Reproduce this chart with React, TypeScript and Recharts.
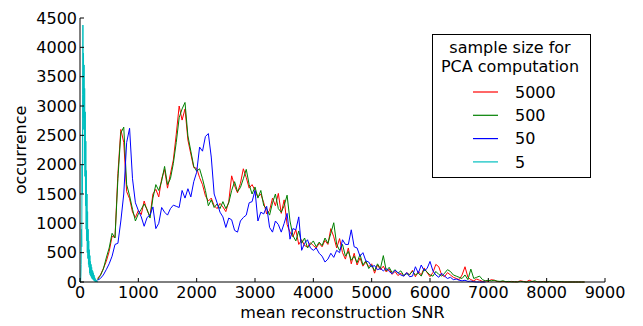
import { Legend, Line, LineChart, XAxis, YAxis } from 'recharts'

// histogram bins (bin start, step 50) shared by the three large-sample series
const BIN_START = 300
const BIN_STEP = 50

const SNR_5000 = [
  60, 120, 230, 350, 520, 780, 760, 1850, 2600, 2380, 1540, 1420, 1190, 1100, 1220, 1150, 1380, 1220, 1120, 1500,
  1580, 1450, 1760, 1920, 1600, 1840, 2080, 2520, 3000, 2760, 2950, 2420, 2180, 1950, 1940, 1780, 1660, 1470, 1380, 1430,
  1300, 1250, 1340, 1280, 1200, 1370, 1810, 1640, 1520, 1680, 1930, 1780, 1600, 1660, 1560, 1450, 1500, 1350, 1160, 1220,
  1430, 1300, 1510, 1170, 1400, 980, 850, 770, 890, 640, 720, 620, 600, 670, 620, 580, 660, 600, 710, 640,
  910, 770, 580, 740, 500, 390, 580, 310, 490, 290, 410, 270, 340, 260, 310, 150, 290, 210, 270, 170,
  220, 130, 180, 110, 150, 100, 160, 120, 200, 90, 180, 120, 240, 160, 90, 160, 300, 260, 120, 90,
  160, 120, 80, 60, 40, 120, 260, 80, 40, 20, 50, 30, 10, 20, 10, 40, 30, 10, 5, 10,
  5, 0, 10, 0, 5, 20, 10, 0, 30, 10, 0, 5, 0, 10, 0, 5, 0, 0, 5, 0,
  0, 0, 0, 0, 0, 0, 0, 0,
]

const SNR_500 = [
  40, 110, 220, 410, 580, 830, 750, 1760, 2540, 2640, 1660, 1470, 1240, 1040, 1160, 1240, 1330, 1240, 1090, 1430,
  1660, 1560, 1720, 1970, 1660, 1760, 2020, 2380, 2800, 2950, 3060, 2490, 2230, 1970, 1890, 1930, 1760, 1560, 1300, 1400,
  1270, 1330, 1250, 1370, 1250, 1350, 1560, 1710, 1540, 1610, 1760, 1920, 1660, 1500, 1620, 1430, 1560, 1300, 1250, 1140,
  1350, 1500, 1250, 1190, 1300, 1480, 1040, 790, 700, 870, 660, 750, 580, 640, 700, 600, 680, 620, 750, 660,
  830, 1010, 640, 540, 640, 440, 520, 370, 440, 330, 470, 290, 360, 230, 290, 190, 310, 230, 450, 190,
  250, 160, 210, 150, 190, 110, 140, 130, 180, 120, 150, 100, 220, 170, 120, 100, 180, 130, 100, 150,
  210, 180, 120, 100, 80, 60, 120, 40, 220, 60, 80, 100, 40, 20, 30, 20, 30, 15, 10, 20,
  5, 10, 0, 5, 0, 10, 5, 0, 0, 10, 20, 0, 5, 0, 0, 10, 0, 0, 0, 5,
  0, 0, 0, 0, 0, 0, 0, 0,
]

const SNR_50 = [
  30, 60, 120, 210, 310, 440, 640, 660, 1040, 1500, 2380, 2620, 1760, 1350, 1220, 1110, 950, 1100, 1140, 1280,
  910, 1000, 1270, 1190, 1140, 1250, 1310, 1290, 1270, 1560, 1430, 1590, 1450, 1710, 1870, 2300, 2230, 2480, 2530, 2130,
  1500, 1350, 1190, 1110, 930, 1090, 1060, 880, 850, 1040, 1100, 1140, 1350, 1370, 1560, 1040, 1190, 1160, 1290, 930,
  850, 1040, 980, 850, 1000, 1170, 730, 910, 890, 1110, 540, 660, 720, 580, 540, 580, 490, 440, 340, 390,
  490, 420, 540, 500, 720, 640, 640, 890, 600, 580, 440, 500, 360, 340, 260, 280, 210, 230, 190, 230,
  180, 140, 200, 160, 120, 100, 160, 90, 100, 260, 150, 290, 190, 230, 350, 190, 120, 80, 150, 100,
  60, 80, 40, 50, 30, 20, 30, 10, 15, 5, 0, 0, 0, 0,
]

// the smallest sample size collapses near zero, finer bins (step 5)
const SNR_5_X = [
  0, 5, 10, 15, 20, 25, 30, 35, 40, 45, 50, 55, 60, 65, 70, 75, 80, 85, 90, 95,
  100, 105, 110, 115, 120, 125, 130, 135, 140, 145, 150, 155, 160, 165, 170, 175, 180, 185, 190, 195,
  200, 205, 210, 215, 220, 225, 230, 235, 240, 245, 250, 255, 260, 265, 270, 275, 280, 285, 290, 295, 300,
]
const SNR_5 = [
  0, 0, 0, 100, 300, 900, 600, 2000, 1500, 3200, 4380, 2800, 3900, 2600, 3700, 2000, 3300, 1800, 2900, 1300,
  2400, 900, 1900, 700, 1500, 500, 1200, 400, 900, 300, 700, 250, 550, 150, 450, 120, 350, 100, 300, 80,
  250, 60, 200, 50, 180, 40, 150, 30, 120, 20, 90, 10, 60, 10, 40, 0, 30, 0, 20, 0, 0,
]

const X_TICKS = [0, 1000, 2000, 3000, 4000, 5000, 6000, 7000, 8000, 9000]
const Y_TICKS = [0, 500, 1000, 1500, 2000, 2500, 3000, 3500, 4000, 4500]

const FONT = "'DejaVu Sans', sans-serif"

const toBins = (values: number[]) =>
  values.map((count, i) => ({ snr: BIN_START + i * BIN_STEP, count }))

const series = [
  { name: '5000', color: '#ff0000', data: toBins(SNR_5000) },
  { name: '500', color: '#008000', data: toBins(SNR_500) },
  { name: '50', color: '#0000ff', data: toBins(SNR_50) },
  { name: '5', color: '#00bfbf', data: SNR_5_X.map((snr, i) => ({ snr, count: SNR_5[i] })) },
]

// matplotlib-style ticks: pointing into the plot, on every side
function BottomTick({ x, y, payload }: any) {
  return (
    <g>
      <line x1={x} x2={x} y1={y} y2={y - 4} stroke="#000" />
      <text x={x} y={y + 16} textAnchor="middle" fontSize={16} fontFamily={FONT} fill="#000">
        {payload.value}
      </text>
    </g>
  )
}

function TopTick({ x, y }: any) {
  return <line x1={x} x2={x} y1={y} y2={y + 4} stroke="#000" />
}

function LeftTick({ x, y, payload }: any) {
  return (
    <g>
      <line x1={x} x2={x + 4} y1={y} y2={y} stroke="#000" />
      <text x={x - 3} y={y} dy="0.36em" textAnchor="end" fontSize={16} fontFamily={FONT} fill="#000">
        {payload.value}
      </text>
    </g>
  )
}

function RightTick({ x, y }: any) {
  return <line x1={x} x2={x - 4} y1={y} y2={y} stroke="#000" />
}

// legend keeps the plotting order (largest sample first)
function LegendBox() {
  return (
    <div
      style={{
        width: 159,
        height: 144,
        boxSizing: 'border-box',
        border: '1px solid #000',
        background: '#fff',
      }}
    >
      <svg width={157} height={142} style={{ display: 'block' }}>
        <text x={77} y={18} textAnchor="middle" fontSize={16} fontFamily={FONT}>
          sample size for
        </text>
        <text x={77} y={37} textAnchor="middle" fontSize={16} fontFamily={FONT}>
          PCA computation
        </text>
        {series.map((s, i) => (
          <g key={s.name}>
            <line x1={40} x2={65} y1={57 + i * 23.3} y2={57 + i * 23.3} stroke={s.color} strokeWidth={1.2} />
            <text x={82} y={57 + i * 23.3} dy="0.36em" fontSize={16} fontFamily={FONT}>
              {s.name}
            </text>
          </g>
        ))}
      </svg>
    </div>
  )
}

export default function App() {
  return (
    <div style={{ position: 'absolute', left: 0, top: 0, background: '#fff' }}>
      <LineChart width={643} height={326} margin={{ top: 18, right: 38, bottom: 0, left: 0 }}>
        <XAxis
          xAxisId="bottom"
          dataKey="snr"
          type="number"
          domain={[0, 9000]}
          ticks={X_TICKS}
          height={44}
          tickSize={0}
          tickMargin={0}
          tick={<BottomTick />}
          axisLine={{ stroke: '#000' }}
          label={{
            value: 'mean reconstruction SNR',
            position: 'insideBottom',
            offset: 8,
            fontSize: 16,
            fontFamily: FONT,
            fill: '#000',
          }}
        />
        <XAxis
          xAxisId="top"
          orientation="top"
          dataKey="snr"
          type="number"
          domain={[0, 9000]}
          ticks={X_TICKS}
          height={0}
          tickSize={0}
          tick={<TopTick />}
          axisLine={{ stroke: '#000' }}
        />
        <YAxis
          yAxisId="left"
          type="number"
          domain={[0, 4500]}
          ticks={Y_TICKS}
          width={80}
          tickSize={0}
          tickMargin={0}
          tick={<LeftTick />}
          axisLine={{ stroke: '#000' }}
          label={({ viewBox }: any) => {
            const cy = viewBox.y + viewBox.height / 2
            return (
              <text
                x={26}
                y={cy}
                transform={`rotate(-90 26 ${cy})`}
                textAnchor="middle"
                fontSize={16}
                fontFamily={FONT}
                fill="#000"
              >
                occurrence
              </text>
            )
          }}
        />
        <YAxis
          yAxisId="right"
          orientation="right"
          type="number"
          domain={[0, 4500]}
          ticks={Y_TICKS}
          width={0}
          tickSize={0}
          tick={<RightTick />}
          axisLine={{ stroke: '#000' }}
        />
        <Legend
          layout="vertical"
          align="center"
          verticalAlign="middle"
          wrapperStyle={{ left: 432, top: 34, width: 159, height: 144 }}
          content={<LegendBox />}
        />
        {series.map((s) => (
          <Line
            key={s.name}
            xAxisId="bottom"
            yAxisId="left"
            data={s.data}
            dataKey="count"
            name={s.name}
            stroke={s.color}
            strokeWidth={1}
            dot={false}
            type="linear"
            isAnimationActive={false}
          />
        ))}
      </LineChart>
    </div>
  )
}
